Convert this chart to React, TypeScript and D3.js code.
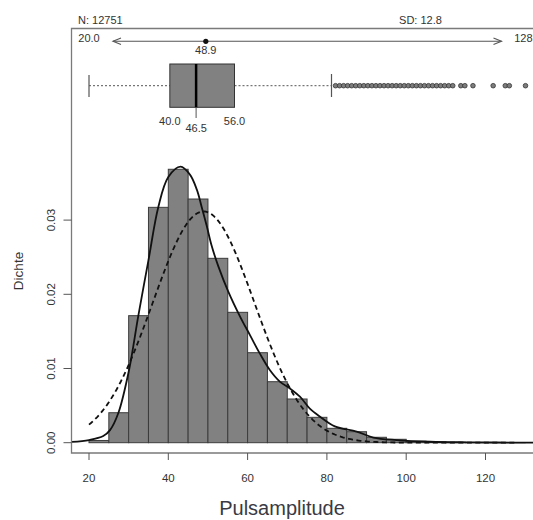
import React from 'react'
import * as d3 from 'd3'

// histogram: bin start (width 5) and density
const binStart = [20, 25, 30, 35, 40, 45, 50, 55, 60, 65, 70, 75, 80, 85, 90, 95, 100, 105, 110, 115, 120, 125]
const density = [0.0003, 0.00404, 0.01712, 0.03172, 0.03685, 0.03284, 0.02485, 0.01757, 0.01213, 0.00822, 0.00589,
    0.00342, 0.00194, 0.00148, 0.00073, 0.00046, 0.0002, 0.0001, 0.00005, 0.00003, 0.00002, 0.00002]
const binWidth = 5

// kernel density curve
const kdeX = [15.7, 20, 23.6, 25.3, 27.4, 30.1, 32.4, 35, 37.5, 40, 43.1, 45.5, 47.2, 48.4, 49.7, 50.9, 52.6, 55.1,
    58.1, 60.6, 63.1, 65.6, 68.2, 70.7, 73.2, 75.7, 78.3, 82, 87.5, 91.7, 97.6, 106, 115.3, 132]
const kdeY = [0.0001, 0.00036, 0.0009, 0.0017, 0.004, 0.0098, 0.017, 0.0246, 0.0318, 0.0358, 0.0372, 0.0361, 0.0341,
    0.0318, 0.0292, 0.0266, 0.0238, 0.0204, 0.017, 0.0145, 0.012, 0.0098, 0.0082, 0.0073, 0.0062, 0.0046, 0.0035,
    0.0022, 0.0015, 0.0007, 0.00036, 0.00013, 0.00005, 0.00001]

// summary stats
const N = 12751
const MEAN = 48.9
const SD = 12.8
const MIN = 20
const MAX = 128
const Q1 = 40
const MEDIAN = 46.5
const Q3 = 56
const WHISKER_HI = 80
const outliers = [81, 82, 83, 84, 85, 86, 87, 88, 89, 90, 91, 92, 93, 94, 95, 96, 97, 98, 99, 100, 101, 102, 103,
    104, 105, 106, 107, 108, 109, 110, 112, 113, 115, 120, 123, 124, 128]

const xTicks = [20, 40, 60, 80, 100, 120]
const yTicks = [0, 0.01, 0.02, 0.03]

const FONT = "'Liberation Sans', Arial, sans-serif"
const TXT = '#333'

export default function App() {
    const width = 533
    const height = 520

    const x = d3.scaleLinear().domain([20, 120]).range([89, 485.5])
    const y = d3.scaleLinear().domain([0, 0.03]).range([442.7, 220.1])
    // the summary strip on top uses its own scale
    const tx = d3.scaleLinear().domain([MIN, MAX]).range([89, 525.5])

    const frame = { left: 71.5, top: 28.5, right: x(132.32), bottom: 453 }

    const kdeLine = d3.line<number>()
        .x((_, i) => x(kdeX[i]))
        .y(d => y(d))
        .curve(d3.curveCatmullRom)(kdeY)

    const normPts = d3.range(MIN, MAX + 0.01, 0.5).map(v =>
        [v, Math.exp(-0.5 * ((v - MEAN) / SD) ** 2) / (SD * Math.sqrt(2 * Math.PI))] as [number, number])
    const normLine = d3.line<[number, number]>()
        .x(d => x(d[0]))
        .y(d => y(d[1]))(normPts)

    const arrowY = 41.3
    const a0 = tx(MIN) + 24
    const a1 = tx(MAX) - 24
    const boxY = 85.7
    const boxTop = 64
    const boxBot = 107.3

    return (
        <>
            <style>{`body{margin:0}`}</style>
            <svg width={width} height={height} style={{ display: 'block', fontFamily: FONT }}>
                <rect width={width} height={height} fill="#fff" />

                {/* histogram bars */}
                <g fill="#818181" stroke="#3c3c3c" strokeWidth={1}>
                    {binStart.map((b, i) => (
                        <rect key={b} x={x(b)} y={y(density[i])} width={x(b + binWidth) - x(b)}
                            height={y(0) - y(density[i])} />
                    ))}
                </g>

                {/* curves */}
                <path d={normLine ?? ''} fill="none" stroke="#111" strokeWidth={1.8} strokeDasharray="5,3.5" />
                <path d={kdeLine ?? ''} fill="none" stroke="#111" strokeWidth={1.8} />

                {/* frame */}
                <path d={`M${frame.right},${frame.top}H${frame.left}V${frame.bottom}H${frame.right}`}
                    fill="none" stroke="#7a7a7a" strokeWidth={1.3} />

                {/* x axis */}
                <g stroke="#555" strokeWidth={1}>
                    {xTicks.map(t => <line key={t} x1={x(t)} x2={x(t)} y1={frame.bottom} y2={frame.bottom + 7} />)}
                </g>
                <g fontSize={11.5} fill={TXT} textAnchor="middle">
                    {xTicks.map(t => <text key={t} x={x(t)} y={481.5}>{t}</text>)}
                </g>
                <text x={282} y={515} fontSize={20} fill="#3a3a44" textAnchor="middle">Pulsamplitude</text>

                {/* y axis */}
                <g stroke="#555" strokeWidth={1}>
                    {yTicks.map(t => <line key={t} x1={frame.left} x2={frame.left - 8} y1={y(t)} y2={y(t)} />)}
                </g>
                <g fontSize={11.5} fill={TXT} textAnchor="middle">
                    {yTicks.map(t => (
                        <text key={t} transform={`translate(55,${y(t)}) rotate(-90)`}>{d3.format('.2f')(t)}</text>
                    ))}
                </g>
                <text transform="translate(22.5,271) rotate(-90)" fontSize={13.5} fill={TXT} textAnchor="middle">Dichte</text>

                {/* header */}
                <text x={78} y={24} fontSize={11} fill={TXT}>N: {N}</text>
                <text x={420.5} y={24} fontSize={11} fill={TXT} textAnchor="middle">SD: {SD}</text>

                {/* range arrow with mean */}
                <g stroke="#555" strokeWidth={1.1} fill="none">
                    <line x1={a0} x2={a1} y1={arrowY} y2={arrowY} />
                    <path d={`M${a0 + 8},${arrowY - 3.2}L${a0},${arrowY}L${a0 + 8},${arrowY + 3.2}`} />
                    <path d={`M${a1 - 8},${arrowY - 3.2}L${a1},${arrowY}L${a1 - 8},${arrowY + 3.2}`} />
                </g>
                <circle cx={tx(MEAN)} cy={arrowY} r={2.6} fill="#111" />
                <g fontSize={11} fill={TXT} textAnchor="middle">
                    <text x={tx(MIN)} y={41.5}>{MIN.toFixed(1)}</text>
                    <text x={width - 0.5} y={41.5} textAnchor="end">{MAX}</text>
                    <text x={tx(MEAN)} y={53.5}>{MEAN.toFixed(1)}</text>
                </g>

                {/* boxplot */}
                <g stroke="#555" strokeWidth={1} strokeDasharray="2,2">
                    <line x1={tx(MIN)} x2={tx(Q1)} y1={boxY} y2={boxY} />
                    <line x1={tx(Q3)} x2={tx(WHISKER_HI)} y1={boxY} y2={boxY} />
                </g>
                <g stroke="#555" strokeWidth={1.2}>
                    <line x1={tx(MIN)} x2={tx(MIN)} y1={75} y2={97} />
                    <line x1={tx(WHISKER_HI)} x2={tx(WHISKER_HI)} y1={74} y2={97} />
                </g>
                <g fill="#7d7d7d" stroke="#333" strokeWidth={0.8}>
                    {outliers.map(o => <circle key={o} cx={tx(o)} cy={boxY} r={2.3} />)}
                </g>
                <rect x={tx(Q1)} y={boxTop} width={tx(Q3) - tx(Q1)} height={boxBot - boxTop}
                    fill="#818181" stroke="#333" strokeWidth={1} />
                <line x1={tx(MEDIAN)} x2={tx(MEDIAN)} y1={boxTop} y2={boxBot} stroke="#000" strokeWidth={2.5} />
                <line x1={tx(MEDIAN)} x2={tx(MEDIAN)} y1={boxBot} y2={118} stroke="#555" strokeWidth={1} />
                <g fontSize={11} fill={TXT} textAnchor="middle">
                    <text x={tx(Q1)} y={125}>{Q1.toFixed(1)}</text>
                    <text x={tx(Q3)} y={125}>{Q3.toFixed(1)}</text>
                    <text x={tx(MEDIAN)} y={131.5}>{MEDIAN.toFixed(1)}</text>
                </g>
            </svg>
        </>
    )
}
